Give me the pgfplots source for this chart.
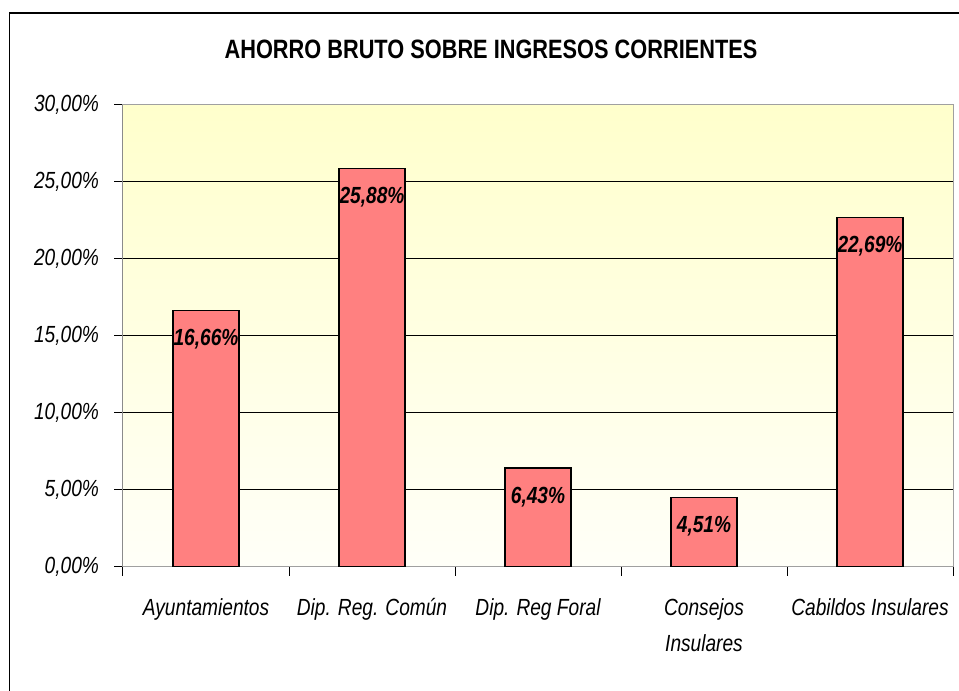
\documentclass[border=0pt]{standalone}
\usepackage{fontspec}
\setmainfont{Liberation Sans}[FakeStretch=0.82]
\usepackage{pgfplots}
\pgfplotsset{compat=1.18}
\definecolor{barfill}{HTML}{FF8080}
\definecolor{bgtop}{HTML}{FFFFCC}
\definecolor{bgbot}{HTML}{FFFFF8}
\definecolor{boxgray}{HTML}{A0A0A0}

\begin{document}
\begin{tikzpicture}
% page = 959x691 px at 0.75pt per px; plot area origin at (0,0)
\useasboundingbox (-92.25pt,-93pt) rectangle (627pt,425.25pt);
\draw[line width=0.8pt] (-85.1pt,-93pt) -- (-85.1pt,415.5pt) -- (627pt,415.5pt);
\node[font=\bfseries\fontsize{19.9}{23}\selectfont] at (276pt,388pt)
  {AHORRO BRUTO SOBRE INGRESOS CORRIENTES};
\begin{axis}[
  at={(0pt,0pt)}, anchor=south west,
  scale only axis, width=622.5pt, height=346.5pt,
  xmin=-0.5, xmax=4.5, ymin=0, ymax=30,
  axis background/.style={shade, top color=bgtop, bottom color=bgbot},
  axis line style={draw=boxgray, line width=0.75pt},
  xtick={-0.5,0.5,...,4.5},
  x tick label as interval,
  xticklabels={Ayuntamientos,Dip. Reg. Común,Dip. Reg Foral,{Consejos\\Insulares},Cabildos Insulares},
  xticklabel style={font=\itshape\fontsize{17.5}{27}\selectfont, align=center, yshift=-13.5pt},
  ytick={0,5,...,30},
  yticklabels={{0,00\%},{5,00\%},{10,00\%},{15,00\%},{20,00\%},{25,00\%},{30,00\%}},
  yticklabel style={font=\itshape\fontsize{17.5}{20}\selectfont, xshift=-8pt},
  tick align=outside, xtick pos=bottom, ytick pos=left,
  major tick length=6.5pt,
  tick style={black, line width=0.75pt},
  ymajorgrids=true,
  grid style={black, line width=0.75pt},
  nodes near coords,
  point meta=explicit symbolic,
  every node near coord/.append style={anchor=center, yshift=-21.75pt,
    font=\bfseries\itshape\fontsize{17.5}{20}\selectfont},
]
\addplot[ybar, fill=barfill, draw=black, line width=1.1pt, bar width=0.4] coordinates {
  (0,16.66) [16,66\%]
  (1,25.88) [25,88\%]
  (2,6.43)  [6,43\%]
  (3,4.51)  [4,51\%]
  (4,22.69) [22,69\%]
};
\draw[boxgray, line width=0.75pt] (rel axis cs:0,1) -- (rel axis cs:1,1) -- (rel axis cs:1,0);
\draw[black, line width=0.75pt] (rel axis cs:0,0) -- (rel axis cs:0,1);
\end{axis}
\end{tikzpicture}
\end{document}
